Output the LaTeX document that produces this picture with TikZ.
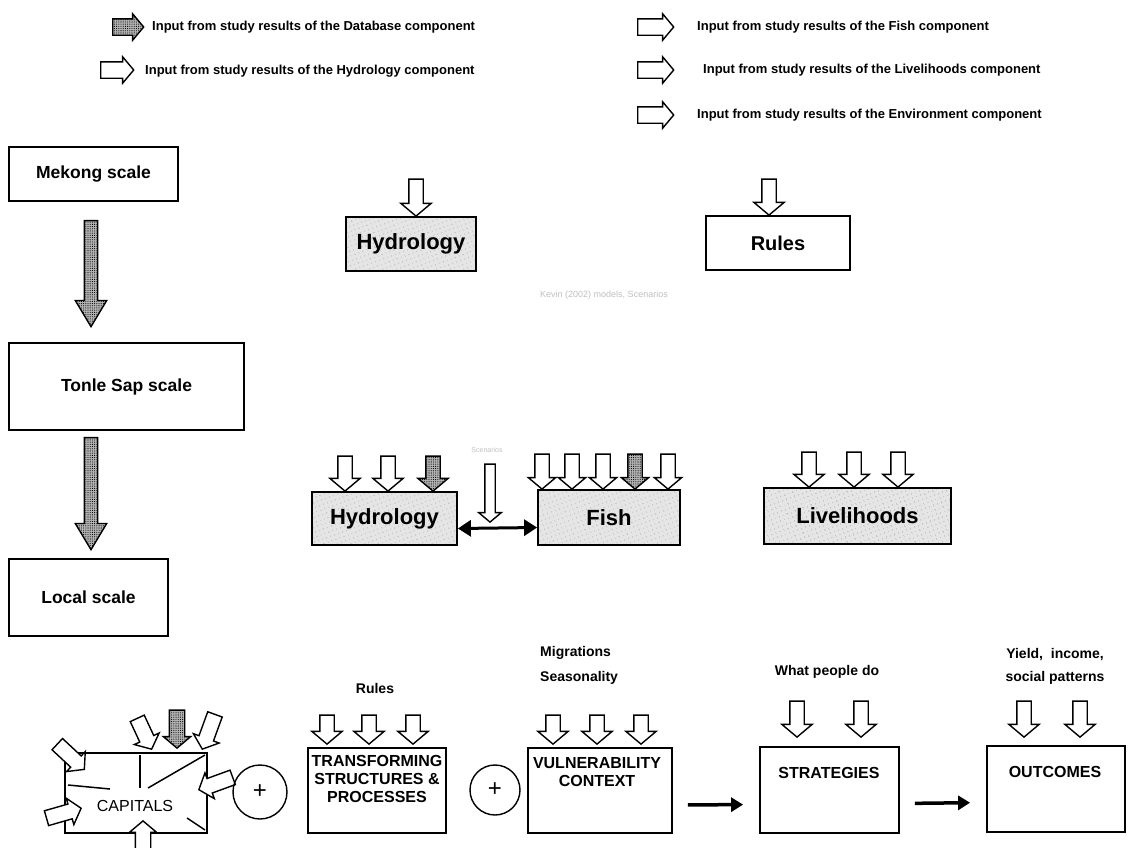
\documentclass[tikz,border=0pt]{standalone}
\usepackage{fontspec}
\setmainfont{Liberation Sans}
\usetikzlibrary{shapes.arrows,arrows.meta,patterns.meta}
\begin{document}
\begin{tikzpicture}[x=1pt,y=-1pt,
  box/.style={draw, line width=1.8pt, inner sep=0pt},
  spk/.style={box, preaction={fill=black!10}, pattern={Dots[distance=4pt,radius=0.5pt,angle=20]}, pattern color=black!60},
  lg/.style={anchor=west, inner sep=0pt, font=\fontsize{13}{15}\selectfont\bfseries},
  big/.style={font=\fontsize{22}{26}\selectfont\bfseries},
  scl/.style={font=\fontsize{17.5}{21}\selectfont\bfseries},
  captxt/.style={font=\fontsize{16}{18}\selectfont\bfseries, align=center, inner sep=0pt},
  lab/.style={font=\fontsize{14}{17}\selectfont\bfseries, inner sep=0pt},
  arrbase/.style={single arrow, draw, line width=1.4pt, inner xsep=0pt, inner ysep=6.5pt,
     single arrow head extend=8pt, single arrow tip angle=100, anchor=tip},
  inarr/.style={arrbase, fill=white},
  dbarr/.style={arrbase, preaction={fill=black!30}, pattern={Dots[distance=2.2pt,radius=0.55pt]}, pattern color=black},
  legarr/.style={inner ysep=7.5pt, single arrow head extend=5pt, anchor=tail, minimum height=34},
  dn/.style={rotate=-90, minimum height=#1},
  narrow/.style={single arrow head extend=6.5pt},
  bigarr/.style={inner ysep=6pt, single arrow head extend=9pt, single arrow tip angle=62},
  plus/.style={circle, draw, line width=1.4pt, minimum size=#1, inner sep=0pt, font=\fontsize{24}{26}\selectfont},
  conn/.style={line width=3.5pt, -{Triangle[length=12pt,width=14pt]}, shorten <=15pt, shorten >=16pt}
]
\useasboundingbox (0,0) rectangle (1128,847);

% ---------- legend ----------
\node[dbarr, legarr, minimum height=31] (lgdb) at (112,27) {};
\node[lg] (lgdbt) at (152,27) {Input from study results of the Database component};
\node[inarr, legarr, minimum height=33] (lghy) at (100,70) {};
\node[lg] (lghyt) at (145,71) {Input from study results of the Hydrology component};
\node[inarr, legarr, minimum height=36] (lgfi) at (637,27) {};
\node[lg] (lgfit) at (697,27) {Input from study results of the Fish component};
\node[inarr, legarr, minimum height=36] (lgli) at (637,70) {};
\node[lg] (lglit) at (703,70) {Input from study results of the Livelihoods component};
\node[inarr, legarr, minimum height=36] (lgen) at (637,115) {};
\node[lg] (lgent) at (697,115) {Input from study results of the Environment component};

% ---------- scales ----------
\node[box, scl, minimum width=169, minimum height=54] (mek) at (93.5,174) {Mekong scale};
\node[box, scl, minimum width=235, minimum height=87] (ton) at (126.5,386.5) {Tonle Sap scale};
\node[box, scl, minimum width=159, minimum height=77] (loc) at (88.5,597.5) {Local scale};
\node[dbarr, bigarr, dn=106] (ma) at (91,328) {};
\node[dbarr, bigarr, dn=112] (tb) at (91,551) {};

% ---------- Mekong level ----------
\node[spk, big, minimum width=130, minimum height=54] (hyd1) at (411,244) {Hydrology};
\node[box, font=\fontsize{20}{24}\selectfont\bfseries, minimum width=144, minimum height=54] (rul1) at (778,243) {Rules};
\node[inarr, dn=37] (hyd1a) at (416,217) {};
\node[inarr, dn=36] (rul1a) at (769,216) {};
\node[text=black!25, font=\fontsize{9}{11}\selectfont] (faint1) at (604,295) {Kevin (2002) models, Scenarios};

% ---------- Tonle Sap level ----------
\node[spk, big, minimum width=145, minimum height=53] (hyd2) at (384.5,518.5) {Hydrology};
\node[spk, big, minimum width=142, minimum height=55] (fish) at (609,517.5) {Fish};
\node[spk, big, minimum width=187, minimum height=56] (liv) at (857.5,516) {Livelihoods};
\node[inarr, dn=35] (h2a1) at (345,492) {};
\node[inarr, dn=35] (h2a2) at (388,492) {};
\node[dbarr, dn=35] (h2a3) at (433,492) {};
\node[inarr, narrow, dn=35] (f1) at (542,490) {};
\node[inarr, narrow, dn=35] (f2) at (572,490) {};
\node[inarr, narrow, dn=35] (f3) at (603,490) {};
\node[dbarr, narrow, dn=35] (f4) at (635,490) {};
\node[inarr, narrow, dn=35] (f5) at (668,490) {};
\node[inarr, dn=35] (l1) at (809,488) {};
\node[inarr, dn=35] (l2) at (854,488) {};
\node[inarr, dn=35] (l3) at (898,488) {};
\node[inarr, dn=58, inner ysep=4.5pt, single arrow head extend=6pt] (mid) at (490,523) {};
\node[text=black!25, font=\fontsize{7}{9}\selectfont] (faint2) at (487,450) {Scenarios};
\draw[line width=3pt, {Triangle[length=13pt,width=16pt]}-{Triangle[length=13pt,width=16pt]}]
  ([yshift=-10pt]hyd2.east) -- ([yshift=-10pt]fish.west);

% ---------- local level ----------
\node[box, minimum width=142, minimum height=80] (capb) at (136,793) {};
\node[font=\fontsize{16}{18}\selectfont, inner sep=0pt] (capt) at (135,806) {CAPITALS};
\draw[line width=1.5pt] (140,755) -- (140,788);
\draw[line width=1.5pt] (148,788) -- (205,755);
\draw[line width=1.5pt] (68,785) -- (110,789);
\draw[line width=1.5pt] (187,818) -- (205,830);
\node[inarr, inner ysep=7pt, single arrow head extend=6pt, rotate=-43, minimum height=37] (ca1) at (85,770) {};
\node[inarr, inner ysep=7pt, single arrow head extend=6pt, rotate=-65, minimum height=34] (ca2) at (152,750) {};
\node[dbarr, inner ysep=7pt, single arrow head extend=6pt, rotate=-90, minimum height=38] (ca3) at (177,749) {};
\node[inarr, inner ysep=7pt, single arrow head extend=6pt, rotate=-110, minimum height=37] (ca4) at (202,750) {};
\node[inarr, inner ysep=7pt, single arrow head extend=6pt, rotate=200, minimum height=36] (ca5) at (198,790) {};
\node[inarr, inner ysep=7pt, single arrow head extend=6pt, rotate=16, minimum height=36] (ca6) at (82,808) {};
\node[inarr, inner ysep=7pt, single arrow head extend=6pt, rotate=90, minimum height=34] (ca7) at (143,820) {};

\node[plus=54] (p1) at (260,792) {+};
\node[box, minimum width=138, minimum height=85] (tra) at (377,790.5) {};
\node[captxt, anchor=north] (trat) at (377,755) {TRANSFORMING\\STRUCTURES \&\\PROCESSES};
\node[lab] (rulesl) at (375,688) {Rules};
\node[inarr, dn=29] (t1) at (327,745) {};
\node[inarr, dn=29] (t2) at (369,745) {};
\node[inarr, dn=29] (t3) at (413,745) {};

\node[plus=50] (p2) at (495,790) {+};
\node[box, minimum width=144, minimum height=85] (vul) at (600,790.5) {};
\node[captxt, anchor=north] (vult) at (597,757) {VULNERABILITY\\CONTEXT};
\node[lab, anchor=west] (migl) at (540,653) {Migrations};
\node[lab, anchor=west] (seal) at (540,678) {Seasonality};
\node[inarr, dn=29] (v1) at (553,745) {};
\node[inarr, dn=29] (v2) at (597,745) {};
\node[inarr, dn=29] (v3) at (641,745) {};

\node[box, minimum width=139, minimum height=86] (str) at (829.5,790) {};
\node[captxt] (strt) at (829,773) {STRATEGIES};
\node[lab] (whatl) at (827,672) {What people do};
\node[inarr, dn=36] (s1) at (797,738) {};
\node[inarr, dn=36] (s2) at (861,738) {};

\node[box, minimum width=138, minimum height=86] (out) at (1056,789) {};
\node[captxt] (outt) at (1055,772) {OUTCOMES};
\node[lab] (yl1) at (1055,655) {Yield,\ \ income,};
\node[lab] (yl2) at (1055,678) {social patterns};
\node[inarr, dn=36] (o1) at (1024,738) {};
\node[inarr, dn=36] (o2) at (1080,738) {};

\draw[conn] ([yshift=-14.5pt]vul.east) -- ([yshift=-14.5pt]str.west);
\draw[conn] ([yshift=-13.5pt]str.east) -- ([yshift=-13.5pt]out.west);
\end{tikzpicture}
\end{document}
